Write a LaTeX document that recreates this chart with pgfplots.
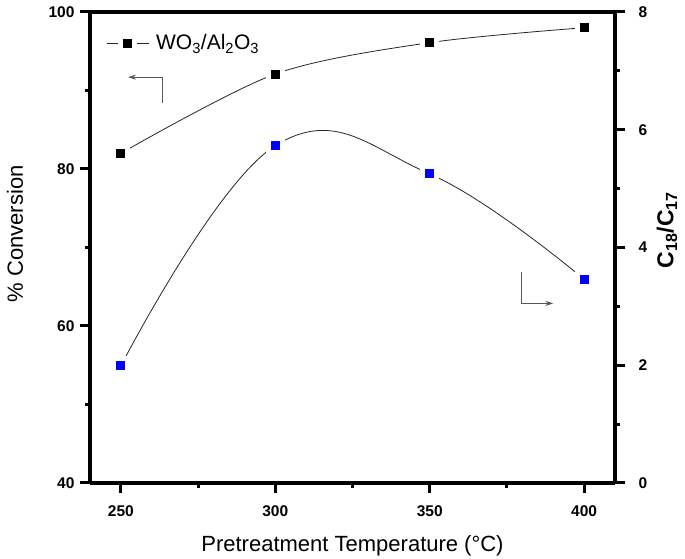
\documentclass[border=0pt]{standalone}
\usepackage{pgfplots}
\pgfplotsset{compat=1.18}
\usepackage{fontspec}
\setmainfont{Liberation Sans}
\usetikzlibrary{arrows.meta}

\pgfplotsset{
 common/.style={
  width=525pt, height=471pt, scale only axis,
  xmin=240, xmax=410,
  separate axis lines,
  every outer x axis line/.append style={line width=3.2pt,-},
  every outer y axis line/.append style={line width=3.2pt,-},
  every tick/.append style={line width=3pt, black},
  major tick length=10pt, minor tick length=5pt,
  /pgf/number format/assume math mode=true,
  ticklabel style={font=\fontsize{15.5}{15.5}\selectfont\bfseries},
 }
}

\begin{document}
\begin{tikzpicture}
\path[use as bounding box] (-90pt,-76pt) rectangle (595pt,483pt);
\begin{axis}[common,
  ymin=40, ymax=100,
  xtick={250,300,350,400}, minor x tick num=1,
  ytick={40,60,80,100}, minor y tick num=1,
  xtick pos=left, ytick pos=left,
  tick align=outside,
  xticklabel style={yshift=-9pt},
  yticklabel style={xshift=-2pt},
  xlabel={Pretreatment Temperature (°C)},
  ylabel={\% Conversion},
  every axis x label/.style={at={(axis description cs:0.5,-0.1465)}, anchor=base, font=\fontsize{22}{22}\selectfont},
  every axis y label/.style={at={(axis description cs:-0.143,0.529)}, rotate=90, anchor=center, font=\fontsize{22}{22}\selectfont},
  legend style={at={(axis description cs:0.025,0.934)}, anchor=west, draw=none, fill=none, font=\fontsize{21}{21}\selectfont},
  legend image code/.code={\draw[mark repeat=2,mark phase=2,#1] plot coordinates {(0pt,0pt) (21pt,0pt) (42pt,0pt)};},
]
\addplot[black!85, line width=0.8pt, smooth, mark=square*, mark size=7pt, mark options={fill=black, draw=white, line width=5pt}]
 coordinates {(250,82) (300,92.1) (350,96.1) (400,98)};
\addlegendentry{\hspace{5pt}WO\textsubscript{3}/Al\textsubscript{2}O\textsubscript{3}}
\draw[line width=0.8pt, color=black!65, -{Stealth[length=8pt,width=5pt]}] (axis cs:263.6,88.4) -- (axis cs:263.6,91.7) -- (axis cs:252.3,91.7);
\end{axis}
\begin{axis}[common,
  ymin=0, ymax=8,
  axis y line*=right, hide x axis,
  tick align=outside,
  yticklabel style={xshift=10pt},
  ytick={0,2,4,6,8}, minor y tick num=1,
  ylabel={\bfseries C\textsubscript{18}/C\textsubscript{17}},
  every axis y label/.style={at={(axis description cs:1.099,0.537)}, rotate=90, anchor=center, font=\fontsize{23}{23}\selectfont},
]
\addplot[black!85, line width=0.8pt, smooth, tension=0.7, mark=square*, mark size=7pt, mark options={fill=blue, draw=white, line width=5pt}]
 coordinates {(250,1.99) (300,5.73) (350,5.25) (400,3.46)};
\draw[line width=0.8pt, color=black!65, -{Stealth[length=8pt,width=5pt]}] (axis cs:379.7,3.59) -- (axis cs:379.7,3.05) -- (axis cs:390,3.05);
\end{axis}
\end{tikzpicture}
\end{document}
